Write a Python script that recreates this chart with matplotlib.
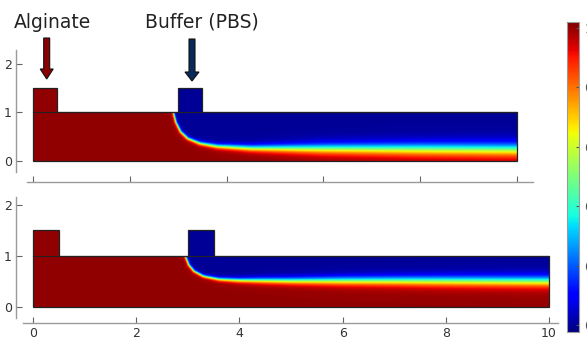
import numpy as np
import matplotlib
matplotlib.use('Agg')
import matplotlib.pyplot as plt
from matplotlib.patches import Polygon, FancyArrow
from matplotlib.cm import ScalarMappable
from matplotlib.colors import Normalize

# channel geometry
channel_len = 10.0
channel_h = 1.0
inlet_h = 1.5
alginate_inlet = (0.0, 0.5)
buffer_inlet = (3.0, 3.5)

# interface centre line (c = 0.5) and its half width
top_ix = [2.9, 2.95, 3.05, 3.2, 3.45, 3.8, 4.5, 6.0, 8.0, 10.0]
top_iy = [1.0, 0.8, 0.6, 0.46, 0.36, 0.3, 0.26, 0.25, 0.24, 0.23]
top_wx = [2.9, 3.5, 4.5, 6.0, 8.0, 10.0]
top_w = [0.03, 0.05, 0.08, 0.13, 0.16, 0.17]

bot_ix = [2.95, 3.02, 3.12, 3.3, 3.6, 4.0, 5.0, 7.0, 10.0]
bot_iy = [1.0, 0.82, 0.7, 0.6, 0.54, 0.52, 0.51, 0.51, 0.5]
bot_wx = [2.95, 3.5, 4.5, 6.0, 8.0, 10.0]
bot_w = [0.03, 0.04, 0.07, 0.1, 0.12, 0.13]

x_ticks = [0, 2, 4, 6, 8, 10]
y_ticks = [0, 1, 2]
cbar_ticks = [0, 0.2, 0.4, 0.6, 0.8, 1]
cbar_labels = ['0', '0.2', '0.4', '0.6', '0.8', '1']
cmin, cmax = -0.023, 1.02

W, H = 587, 342


def field(ix, iy, wx, w, nx=700, ny=105):
    """concentration map on the channel grid from the interface line"""
    xs = np.linspace(0, channel_len, nx)
    ys = np.linspace(0, inlet_h, ny)
    seg = np.hypot(np.diff(ix), np.diff(iy))
    s = np.concatenate([[0], np.cumsum(seg)])
    t = np.linspace(0, s[-1], 600)
    cx = np.interp(t, s, ix)
    cy = np.interp(t, s, iy)
    cw = np.interp(cx, wx, w)
    h = np.interp(xs, ix, iy, left=np.inf)
    c = np.zeros((ny, nx))
    for j, y in enumerate(ys):
        d2 = (xs[:, None] - cx[None, :])**2 + (y - cy[None, :])**2
        k = np.argmin(d2, axis=1)
        d = np.sqrt(d2[np.arange(nx), k])
        sign = np.where(y < h, 1.0, -1.0)
        c[j] = 0.5 * (1 + np.tanh(sign * d / cw[k]))
    inlet = ys[:, None] > channel_h
    c[inlet & (xs[None, :] <= alginate_inlet[1] + 0.05)] = 1.0
    c[inlet & (xs[None, :] >= buffer_inlet[0] - 0.05)] = 0.0
    return c


def px_axes(fig, x0, x1, y0, y1):
    # pixel box, y counted from the top
    return fig.add_axes([x0 / W, 1 - y1 / H, (x1 - x0) / W, (y1 - y0) / H])


def draw_panel(ax, c, spine_x, spine_y, xb, yb, labels):
    ax.set_facecolor('none')
    norm = Normalize(cmin, cmax)
    im = ax.imshow(c, origin='lower', extent=(0, channel_len, 0, inlet_h),
                   cmap='jet', norm=norm, aspect='auto', interpolation='bilinear')
    a0, a1 = alginate_inlet
    b0, b1 = buffer_inlet
    verts = [(0, 0), (channel_len, 0), (channel_len, channel_h), (b1, channel_h),
             (b1, inlet_h), (b0, inlet_h), (b0, channel_h), (a1, channel_h),
             (a1, inlet_h), (a0, inlet_h)]
    poly = Polygon(verts, closed=True, facecolor='none', edgecolor='#222222', lw=0.9)
    ax.add_patch(poly)
    im.set_clip_path(poly)
    ax.plot([0, channel_len], [channel_h, channel_h], color='#222222', lw=0.8)

    for side in ['top', 'right']:
        ax.spines[side].set_visible(False)
    ax.spines['left'].set_position(('data', spine_x))
    ax.spines['bottom'].set_position(('data', spine_y))
    ax.spines['left'].set_bounds(*yb)
    ax.spines['bottom'].set_bounds(*xb)
    for side in ['left', 'bottom']:
        ax.spines[side].set_color('#9a9a9a')
        ax.spines[side].set_linewidth(1.0)
    ax.set_xticks(x_ticks)
    ax.set_yticks(y_ticks)
    ax.tick_params(direction='in', length=4, width=0.8, color='#666666',
                   labelcolor='#333333', labelsize=9, pad=3)
    if not labels:
        ax.set_xticklabels([])


fig = plt.figure(figsize=(W / 100, H / 100), dpi=100)
fig.patch.set_facecolor('white')

# top panel: 48.4 px per unit, origin at (33, 160.7)
ax1 = px_axes(fig, 33 - 0.5 * 48.4, 33 + 10.6 * 48.4, 160.7 - 2.5 * 48.3, 160.7 + 0.6 * 48.3)
ax1.set_xlim(-0.5, 10.6)
ax1.set_ylim(-0.6, 2.5)
draw_panel(ax1, field(top_ix, top_iy, top_wx, top_w), -0.35, -0.44,
           (-0.12, 10.33), (-0.23, 2.29), False)

# bottom panel: 51.6 px per unit, origin at (33, 307)
ax2 = px_axes(fig, 33 - 0.5 * 51.6, 33 + 10.4 * 51.6, 307 - 2.3 * 51.2, 307 + 0.5 * 51.2)
ax2.set_xlim(-0.5, 10.4)
ax2.set_ylim(-0.5, 2.3)
draw_panel(ax2, field(bot_ix, bot_iy, bot_wx, bot_w), -0.33, -0.31,
           (-0.19, 10.17), (-0.21, 2.14), True)

# colour bar on the right edge
cax = px_axes(fig, 567, 579, 22, 332)
sm = ScalarMappable(norm=Normalize(cmin, cmax), cmap='jet')
cb = fig.colorbar(sm, cax=cax, ticks=cbar_ticks)
cb.set_ticklabels(cbar_labels)
cb.outline.set_edgecolor('#9a9a9a')
cb.outline.set_linewidth(0.8)
cax.tick_params(direction='in', length=2, width=0.8, color='#555555',
                labelcolor='#555555', labelsize=9, pad=4)

# overlay in pixel coordinates for the labels and arrows
ov = fig.add_axes([0, 0, 1, 1])
ov.set_xlim(0, W)
ov.set_ylim(H, 0)
ov.axis('off')
ov.set_facecolor('none')

ov.text(52, 22, 'Alginate', ha='center', va='center', fontsize=13.5, color='#222222')
ov.text(202, 22, 'Buffer (PBS)', ha='center', va='center', fontsize=13.5, color='#222222')
ov.add_patch(FancyArrow(46.7, 38, 0, 41, width=6, head_width=13, head_length=10,
                        length_includes_head=True, facecolor='#8b0000',
                        edgecolor='#111111', lw=0.8))
ov.add_patch(FancyArrow(192, 39, 0, 42, width=6, head_width=14, head_length=9,
                        length_includes_head=True, facecolor='#0b2a5c',
                        edgecolor='#111111', lw=0.8))

fig.savefig('out.png', dpi=100)
